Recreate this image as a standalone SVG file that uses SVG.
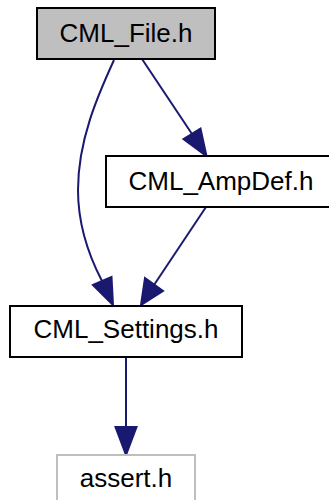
<svg xmlns="http://www.w3.org/2000/svg" width="329" height="500" viewBox="0 0 329 500">
<style>
.box{fill:#ffffff;stroke:#000000;stroke-width:2}
.cur{fill:#bfbfbf;stroke:#000000;stroke-width:2}
.ext{fill:#ffffff;stroke:#bfbfbf;stroke-width:2}
.lbl{font-family:"Liberation Sans",Arial,sans-serif;font-size:26px;fill:#000000;text-anchor:middle}
.edge{fill:none;stroke:#191970;stroke-width:2}
.head{fill:#191970;stroke:#191970;stroke-width:2}
</style>
<rect width="329" height="500" fill="#ffffff"/>
<g id="edges">
<path class="edge" d="M142,59 L192,134"/>
<polygon class="head" points="183.5,139 200.5,128.5 206.5,156"/>
<path class="edge" d="M114,60 C98,95 78,140 78,190 C78,225 90,258 102,281"/>
<polygon class="head" points="93,285 111.5,277 113,305"/>
<path class="edge" d="M206,207 L154,285"/>
<polygon class="head" points="145,278 163,291 141,305"/>
<path class="edge" d="M126,357 L126,427"/>
<polygon class="head" points="115.5,427 136.5,427 126,455"/>
</g>
<g id="node-CML_File">
<rect class="cur" x="37" y="8" width="178" height="51"/>
<text class="lbl" x="126" y="42">CML_File.h</text>
</g>
<g id="node-CML_AmpDef">
<rect class="box" x="106" y="156" width="232" height="51"/>
<text class="lbl" x="221" y="190">CML_AmpDef.h</text>
</g>
<g id="node-CML_Settings">
<rect class="box" x="10" y="306" width="232" height="51"/>
<text class="lbl" x="126" y="338">CML_Settings.h</text>
</g>
<g id="node-assert">
<rect class="ext" x="57" y="455" width="138" height="51"/>
<text class="lbl" x="126" y="487">assert.h</text>
</g>
</svg>
